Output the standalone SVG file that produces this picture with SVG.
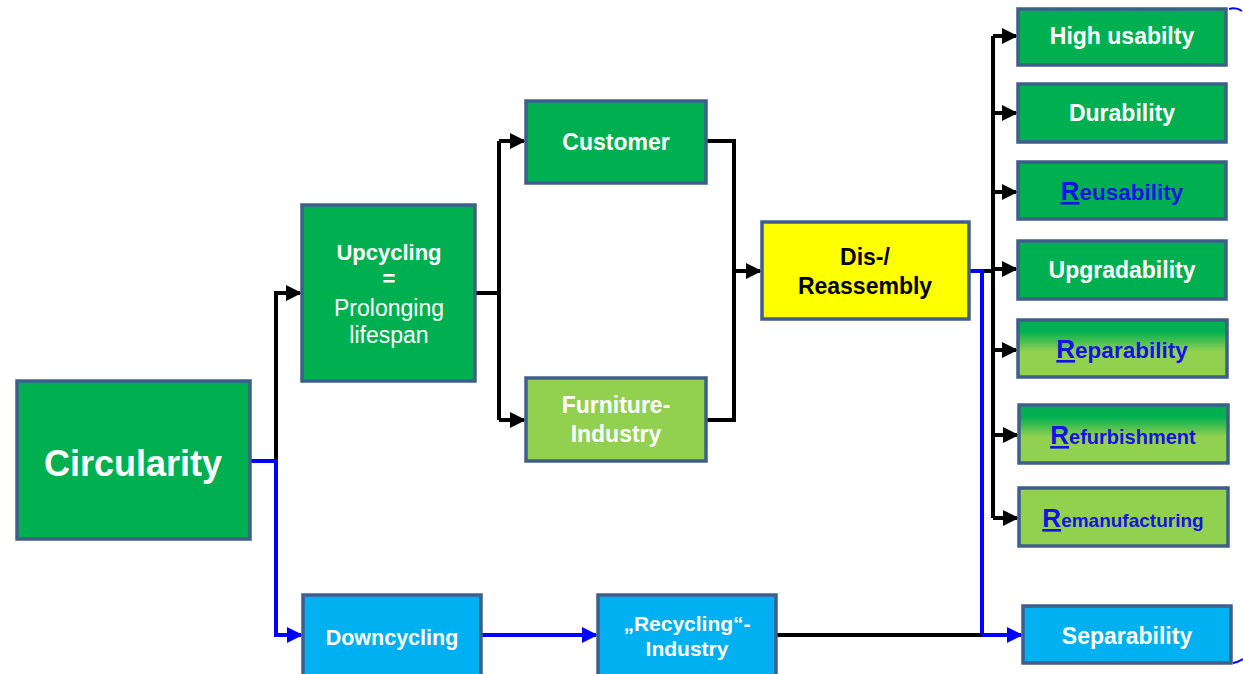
<svg xmlns="http://www.w3.org/2000/svg" width="1243" height="674" viewBox="0 0 1243 674">
<defs>
<style>
.box{stroke:#3F5F8A;stroke-width:3.5}
.g{fill:#00B050}
.lg{fill:#92D050}
.b{fill:#00B0F0}
.y{fill:#FFFF00}
.t{font-family:"Liberation Sans",Arial,sans-serif;font-weight:bold;fill:#FFFFFF;text-anchor:middle}
.tn{font-weight:normal}
.tk{fill:#000000}
.tb{fill:#1414E0}
.c{fill:none;stroke:#000000;stroke-width:4}
.cb{fill:none;stroke:#0000FF;stroke-width:4}
</style>
<linearGradient id="gr" x1="0" y1="0" x2="0" y2="1">
<stop offset="0" stop-color="#00B050"/>
<stop offset="0.2" stop-color="#00B050"/>
<stop offset="0.55" stop-color="#92D050"/>
<stop offset="1" stop-color="#92D050"/>
</linearGradient>
<marker id="ak" markerWidth="4" markerHeight="4" refX="3.5" refY="2" orient="auto" markerUnits="strokeWidth"><path d="M0,0 L4,2 L0,4 Z" fill="#000000"/></marker>
<marker id="ab" markerWidth="4" markerHeight="4" refX="3.5" refY="2" orient="auto" markerUnits="strokeWidth"><path d="M0,0 L4,2 L0,4 Z" fill="#0000FF"/></marker>
</defs>
<rect width="1243" height="674" fill="#FFFFFF"/>

<g id="connectors">
<path class="c" d="M276,461 V293 H300" marker-end="url(#ak)"/>
<path class="cb" d="M250,461 H276 V635 H301" marker-end="url(#ab)"/>
<path class="c" d="M476,293 H499"/>
<path class="c" d="M499,141 V420"/>
<path class="c" d="M499,141 H524" marker-end="url(#ak)"/>
<path class="c" d="M499,420 H524" marker-end="url(#ak)"/>
<path class="c" d="M707,141 H734 V420 H707"/>
<path class="c" d="M734,271 H760" marker-end="url(#ak)"/>
<path class="c" d="M982,271 H993"/>
<path class="c" d="M993,36 V518"/>
<path class="c" d="M993,36 H1016" marker-end="url(#ak)"/>
<path class="c" d="M993,113 H1016" marker-end="url(#ak)"/>
<path class="c" d="M993,192 H1016" marker-end="url(#ak)"/>
<path class="c" d="M993,269 H1016" marker-end="url(#ak)"/>
<path class="c" d="M993,350 H1016" marker-end="url(#ak)"/>
<path class="c" d="M993,435 H1017" marker-end="url(#ak)"/>
<path class="c" d="M993,518 H1017" marker-end="url(#ak)"/>
<path class="cb" d="M970,271 H982 V635 H1021" marker-end="url(#ab)"/>
<path class="cb" d="M482,635 H596" marker-end="url(#ab)"/>
<path class="c" d="M777,635 H982"/>
</g>

<g id="circularity"><rect class="box g" x="17" y="381" width="233" height="158"/><text class="t" x="133" y="476" font-size="36">Circularity</text></g>
<g id="upcycling"><rect class="box g" x="302" y="205" width="173" height="176"/>
<text class="t" x="389" y="260" font-size="22">Upcycling</text>
<text class="t" x="389" y="286" font-size="22">=</text>
<text class="t tn" x="389" y="316" font-size="23">Prolonging</text>
<text class="t tn" x="389" y="343" font-size="23">lifespan</text></g>
<g id="customer"><rect class="box g" x="526" y="101" width="180" height="82"/><text class="t" x="616" y="150" font-size="23">Customer</text></g>
<g id="furniture"><rect class="box lg" x="526" y="378" width="180" height="83"/><text class="t" x="616" y="413" font-size="23">Furniture-</text><text class="t" x="616" y="442" font-size="23">Industry</text></g>
<g id="reassembly"><rect class="box y" x="762" y="222" width="207" height="97"/><text class="t tk" x="865" y="265" font-size="23">Dis-/</text><text class="t tk" x="865" y="294" font-size="23">Reassembly</text></g>

<g id="usability"><rect class="box g" x="1018" y="9" width="208" height="56"/><text class="t" x="1122" y="44" font-size="23">High usabilty</text></g>
<g id="durability"><rect class="box g" x="1018" y="84" width="208" height="58"/><text class="t" x="1122" y="121" font-size="23">Durability</text></g>
<g id="reusability"><rect class="box g" x="1018" y="162" width="208" height="57"/><text class="t tb" x="1122" y="200" font-size="22.5"><tspan font-size="26" text-decoration="underline">R</tspan>eusability</text></g>
<g id="upgradability"><rect class="box g" x="1018" y="241" width="208" height="58"/><text class="t" x="1122" y="278" font-size="23">Upgradability</text></g>
<g id="reparability"><rect class="box" fill="url(#gr)" x="1018" y="320" width="209" height="57"/><text class="t tb" x="1122" y="358" font-size="22.5"><tspan font-size="26" text-decoration="underline">R</tspan>eparability</text></g>
<g id="refurbishment"><rect class="box" fill="url(#gr)" x="1019" y="405" width="209" height="58"/><text class="t tb" x="1123" y="444" font-size="20"><tspan font-size="26" text-decoration="underline">R</tspan>efurbishment</text></g>
<g id="remanufacturing"><rect class="box lg" x="1019" y="488" width="209" height="58"/><text class="t tb" x="1123" y="527" font-size="19"><tspan font-size="26" text-decoration="underline">R</tspan>emanufacturing</text></g>
<g id="separability"><rect class="box b" x="1023" y="606" width="208" height="57"/><text class="t" x="1127" y="644" font-size="23">Separability</text></g>

<g id="downcycling"><rect class="box b" x="303" y="595" width="178" height="82"/><text class="t" x="392" y="645" font-size="21.5">Downcycling</text></g>
<g id="recycling"><rect class="box b" x="598" y="595" width="178" height="82"/><text class="t" x="687" y="631" font-size="21">„Recycling“-</text><text class="t" x="687" y="656" font-size="21">Industry</text></g>

<path d="M1229,9 Q1236,7 1242,11" fill="none" stroke="#0000FF" stroke-width="2"/>
<path d="M1233,663 Q1238,662 1243,659" fill="none" stroke="#0000FF" stroke-width="2"/>
</svg>
